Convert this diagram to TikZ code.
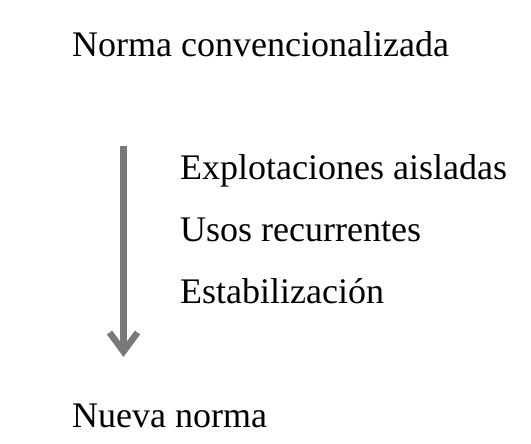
\documentclass[tikz,border=0pt]{standalone}
\usepackage{fontspec}
\setmainfont{Liberation Serif}
\usetikzlibrary{math,arrows.meta}

\begin{document}
\begin{tikzpicture}[x=1pt,y=1pt,
    label text/.style={anchor=base west,inner sep=0pt,font=\fontsize{36}{43}\selectfont}]
    \useasboundingbox (0,0) rectangle (531,444);
    % baselines measured from the top edge
    \tikzmath{%
      \htop = 444;
      \ya = \htop - 57; \yb = \htop - 180; \yc = \htop - 242; \yd = \htop - 304; \ye = \htop - 428;
      \xl = 72; \xr = 180; \xarrow = 123.5;
    }
    \node[label text] (norma) at (\xl, \ya) {Norma convencionalizada};
    \node[label text] (explot) at (\xr, \yb) {Explotaciones aisladas};
    \node[label text] (usos) at (\xr, \yc) {Usos recurrentes};
    \node[label text] (estab) at (\xr, \yd) {Estabilización};
    \node[label text] (nueva) at (\xl, \ye) {Nueva norma};
    % the gray arrow
    \coordinate (arrowtop) at (\xarrow, \htop - 146);
    \coordinate (arrowtip) at (\xarrow, \htop - 357);
    \draw[line width=6.5pt, color=gray!95!black,
      -{Straight Barb[length=19pt,width=28pt,line cap=butt]}] (arrowtop) -- (arrowtip);
\end{tikzpicture}
\end{document}
